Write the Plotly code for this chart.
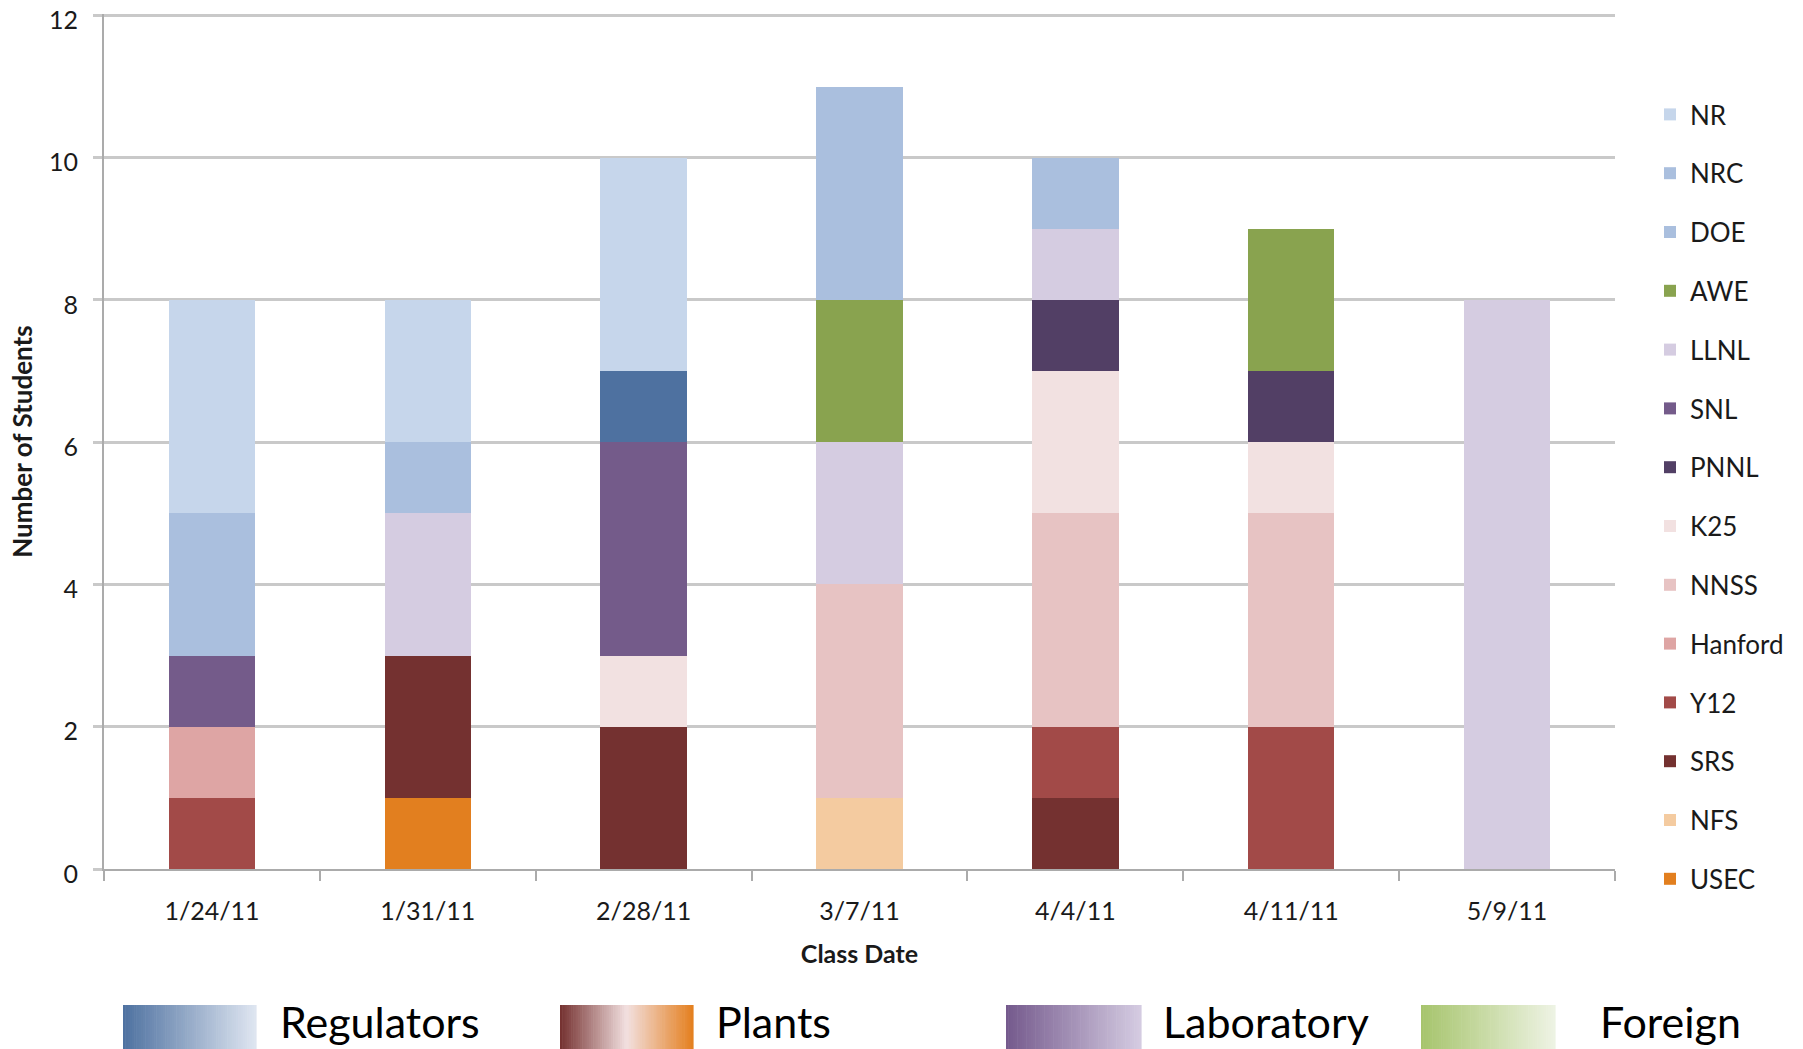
import plotly.graph_objects as go

# Class dates (x categories)
dates = ["1/24/11", "1/31/11", "2/28/11", "3/7/11", "4/4/11", "4/11/11", "5/9/11"]

# Students per organisation, stacked bottom to top in this order
USEC = [0, 1, 0, 0, 0, 0, 0]
NFS = [0, 0, 0, 1, 0, 0, 0]
SRS = [0, 2, 2, 0, 1, 0, 0]
Y12 = [1, 0, 0, 0, 1, 2, 0]
Hanford = [1, 0, 0, 0, 0, 0, 0]
NNSS = [0, 0, 0, 3, 3, 3, 0]
K25 = [0, 0, 1, 0, 2, 1, 0]
PNNL = [0, 0, 0, 0, 1, 1, 0]
SNL = [1, 0, 3, 0, 0, 0, 0]
LLNL = [0, 2, 0, 2, 1, 0, 8]
AWE = [0, 0, 0, 2, 0, 2, 0]
DOE = [0, 0, 1, 0, 0, 0, 0]
NRC = [2, 1, 0, 3, 1, 0, 0]
NR = [3, 2, 3, 0, 0, 0, 0]

series = [
    ("USEC", USEC, "#e27f1f"),
    ("NFS", NFS, "#f4cba0"),
    ("SRS", SRS, "#743130"),
    ("Y12", Y12, "#a24a48"),
    ("Hanford", Hanford, "#dea5a4"),
    ("NNSS", NNSS, "#e7c3c3"),
    ("K25", K25, "#f2e1e1"),
    ("PNNL", PNNL, "#523f65"),
    ("SNL", SNL, "#745b8a"),
    ("LLNL", LLNL, "#d5cce1"),
    ("AWE", AWE, "#89a34f"),
    ("DOE", DOE, ["#aabfde", "#aabfde", "#4e71a0", "#aabfde", "#aabfde", "#aabfde", "#aabfde"]),
    ("NRC", NRC, "#aabfde"),
    ("NR", NR, "#c6d6eb"),
]

# Group labels with their gradient stops
groups = ["Regulators", "Plants", "Laboratory", "Foreign"]
group_stops = [
    ["#4e71a0", "#dfe6f1"],
    ["#74302f", "#f2e0e0", "#e47f1e"],
    ["#74598c", "#d5cce2"],
    ["#a6c46c", "#eef3e4"],
]

FONT = "Lato"
TXT = "#1a1a1a"

W, H = 1803, 1049
L, R, T, B = 104, 1615, 14, 869  # plot area in pixels


def px_x(px):
    return (px - L) / (R - L)


def px_y(py):
    return (B - py) / (B - T)


fig = go.Figure()
n = len(series)
for k, (name, vals, col) in enumerate(series):
    fig.add_trace(go.Bar(
        x=dates, y=vals, name=name, legendgroup=name,
        legendrank=n - k,
        marker=dict(color=col, line=dict(width=0)),
    ))

fig.update_layout(
    barmode="stack",
    bargap=0.6,
    width=W, height=H,
    margin=dict(l=L, r=W - R, t=T, b=H - B, autoexpand=False),
    plot_bgcolor="white",
    paper_bgcolor="white",
    font=dict(family=FONT, color=TXT, size=24),
    legend=dict(
        x=px_x(1650), y=px_y(91), xanchor="left", yanchor="top",
        traceorder="grouped", tracegroupgap=22,
        font=dict(size=26, family=FONT, color=TXT),
        itemwidth=30,
    ),
    xaxis=dict(
        type="category", automargin=False,
        showline=True, linecolor="#ababab", linewidth=2,
        ticks="outside", tickson="boundaries", ticklen=10, tickcolor="#ababab", tickwidth=2,
        tickfont=dict(size=25), ticklabelstandoff=19,
        title=dict(text="<b>Class Date</b>", font=dict(size=25), standoff=21),
    ),
    yaxis=dict(
        range=[0, 12.02], tickvals=[0, 2, 4, 6, 8, 10, 12], automargin=False,
        showgrid=True, gridcolor="#c9c9c9", gridwidth=2.5,
        showline=True, linecolor="#ababab", linewidth=2,
        ticks="outside", ticklen=9, tickcolor="#c9c9c9", tickwidth=2.5,
        tickfont=dict(size=25), ticklabelstandoff=10, ticklabelshift=5,
        ticklabeloverflow="allow",
        zeroline=False,
        title=dict(text="<b>Number of Students</b>", font=dict(size=26), standoff=9),
    ),
)


def hex_rgb(h):
    h = h.lstrip("#")
    return tuple(int(h[i:i + 2], 16) for i in (0, 2, 4))


def lerp_color(stops, t):
    m = len(stops) - 1
    seg = min(int(t * m), m - 1)
    lt = t * m - seg
    a, b = hex_rgb(stops[seg]), hex_rgb(stops[seg + 1])
    c = [round(a[i] + (b[i] - a[i]) * lt) for i in range(3)]
    return "rgb({},{},{})".format(*c)


# Gradient swatches and group names along the bottom
box_x = [(123, 256), (560, 693), (1006, 1141), (1421, 1555)]
text_x = [278, 714, 1161, 1598]
y0, y1 = 1005, 1052
strips = 60
for (bx0, bx1), stops, tx, label in zip(box_x, group_stops, text_x, groups):
    w = (bx1 - bx0) / strips
    for i in range(strips):
        fig.add_shape(
            type="rect", xref="paper", yref="paper",
            x0=px_x(bx0 + i * w), x1=px_x(bx0 + (i + 1) * w + 0.6),
            y0=px_y(y1), y1=px_y(y0),
            fillcolor=lerp_color(stops, (i + 0.5) / strips),
            line=dict(width=0), layer="above",
        )
    fig.add_annotation(
        text=label, xref="paper", yref="paper",
        x=px_x(tx), y=px_y(1021), xanchor="left", yanchor="middle",
        showarrow=False, font=dict(size=43, family=FONT, color="#000000"),
    )

fig.write_html("out.html")
